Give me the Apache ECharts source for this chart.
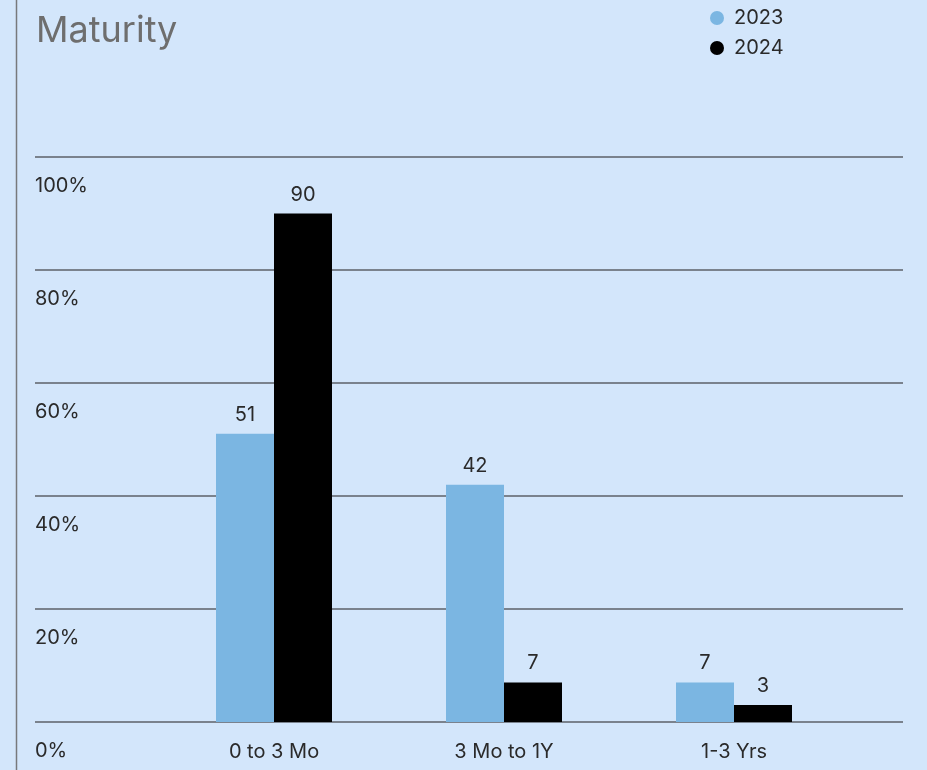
<!DOCTYPE html>
<html>
<head>
<meta charset="utf-8">
<script src="https://cdn.jsdelivr.net/npm/echarts@6/dist/echarts.min.js"></script>
<style>
  html, body { margin: 0; padding: 0; background: #d3e6fb; }
  #chart { width: 927px; height: 770px; }
</style>
</head>
<body>
<div id="chart"></div>
<script>
const categories = ['0 to 3 Mo', '3 Mo to 1Y', '1-3 Yrs'];
const values2023 = [51, 42, 7];
const values2024 = [90, 7, 3];
const yTicks = [0, 20, 40, 60, 80, 100];
const seriesNames = ['2023', '2024'];

const FONT = 'Inter, "Noto Sans", sans-serif';
const TXT = '#2a2a2a';

const chart = echarts.init(document.getElementById('chart'), null, { renderer: 'canvas' });
chart.setOption({
  backgroundColor: '#d3e6fb',
  animation: false,
  title: {
    text: 'Maturity',
    left: 31, top: 8,
    textStyle: { fontFamily: FONT, fontSize: 36, fontWeight: 'normal', color: '#6e6e6e' }
  },
  legend: {
    data: seriesNames,
    orient: 'vertical',
    left: 705, top: 3,
    icon: 'circle',
    itemWidth: 14, itemHeight: 14,
    itemGap: 10,
    textStyle: { fontFamily: FONT, fontSize: 20, color: TXT, padding: [0, 0, 0, 5] }
  },
  graphic: [{
    type: 'line',
    shape: { x1: 16.5, y1: 0, x2: 16.5, y2: 770 },
    style: { stroke: '#77797c', lineWidth: 1.5 }
  }],
  grid: [
    { left: 35, right: 24, top: 157, bottom: 48 },
    { left: 159, right: 78, top: 157, bottom: 48 }
  ],
  xAxis: [
    { gridIndex: 0, type: 'value', show: false },
    {
      gridIndex: 1, type: 'category', data: categories,
      axisLine: { show: false }, axisTick: { show: false },
      axisLabel: { margin: 20, fontFamily: FONT, fontSize: 20, color: TXT }
    }
  ],
  yAxis: [
    {
      gridIndex: 0, type: 'value', min: 0, max: 100, interval: 20,
      axisLine: { show: false }, axisTick: { show: false },
      splitLine: { show: true, lineStyle: { color: '#5c6168', width: 1.5 } },
      axisLabel: {
        inside: true, margin: 0, align: 'left', verticalAlign: 'top',
        padding: [19, 0, 0, 0],
        fontFamily: FONT, fontSize: 20, color: TXT,
        formatter: function (v) { return yTicks.indexOf(v) >= 0 ? v + '%' : ''; }
      }
    },
    { gridIndex: 1, type: 'value', min: 0, max: 100, show: false }
  ],
  series: [
    {
      name: seriesNames[0], type: 'bar', xAxisIndex: 1, yAxisIndex: 1,
      data: values2023, barWidth: 58, barGap: '0%',
      itemStyle: { color: '#7bb6e2' },
      label: { show: true, position: 'top', distance: 9, fontFamily: FONT, fontSize: 20, color: TXT }
    },
    {
      name: seriesNames[1], type: 'bar', xAxisIndex: 1, yAxisIndex: 1,
      data: values2024, barWidth: 58, barGap: '0%',
      itemStyle: { color: '#000000' },
      label: { show: true, position: 'top', distance: 9, fontFamily: FONT, fontSize: 20, color: TXT }
    }
  ]
});
</script>
</body>
</html>
